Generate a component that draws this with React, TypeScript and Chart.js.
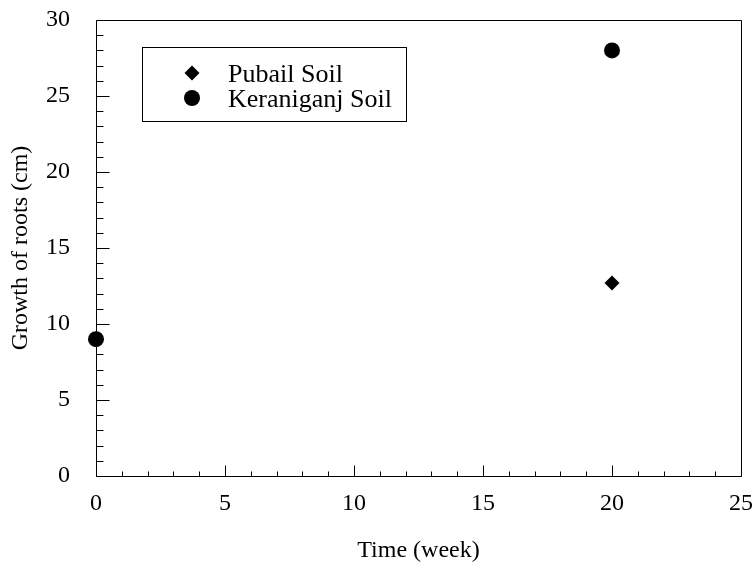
import React, { useEffect, useRef } from "react";
import { Chart, registerables } from "chart.js";

Chart.register(...registerables);

// ---- data ----
const weeks = [0, 20];
const pubailRoots = [9, 12.7];
const keraniganjRoots = [9, 28];
const seriesLabels = ["Pubail Soil", "Keraniganj Soil"];
const seriesStyles = ["rectRot", "circle"];
const xTickValues = [0, 5, 10, 15, 20, 25];
const yTickValues = [0, 5, 10, 15, 20, 25, 30];
const xTitle = "Time (week)";
const yTitle = "Growth of roots (cm)";

const FONT = '"Liberation Serif", "Times New Roman", serif';

const framePlugin = {
  id: "frame",
  beforeDatasetsDraw(chart: any) {
    const { ctx, chartArea } = chart;
    const xs = chart.scales.x;
    const ys = chart.scales.y;
    const L = Math.round(chartArea.left) + 0.5;
    const R = Math.round(chartArea.right) + 0.5;
    const T = Math.round(chartArea.top) + 0.5;
    const B = Math.round(chartArea.bottom) + 0.5;
    ctx.save();
    ctx.strokeStyle = "#000";
    ctx.lineWidth = 1;
    ctx.beginPath();
    ctx.moveTo(L, T);
    ctx.lineTo(R, T);
    ctx.lineTo(R, B);
    ctx.lineTo(L, B);
    ctx.closePath();
    ctx.stroke();
    ctx.beginPath();
    for (let v = xs.min; v <= xs.max; v += 1) {
      const px = Math.round(xs.getPixelForValue(v)) + 0.5;
      const len = v % 5 === 0 ? 11 : 5;
      ctx.moveTo(px, B);
      ctx.lineTo(px, B - len);
    }
    for (let v = ys.min; v <= ys.max; v += 1) {
      const py = Math.round(ys.getPixelForValue(v)) + 0.5;
      const len = v % 5 === 0 ? 13 : 7;
      ctx.moveTo(L, py);
      ctx.lineTo(L + len, py);
    }
    ctx.stroke();
    ctx.restore();
  },
  afterDraw(chart: any) {
    const { ctx } = chart;
    ctx.save();
    ctx.strokeStyle = "#000";
    ctx.lineWidth = 1;
    ctx.strokeRect(142.5, 47.5, 264, 74);
    const rows = [73, 98];
    chart.data.datasets.forEach((ds: any, i: number) => {
      const cx = 192;
      const cy = rows[i];
      ctx.fillStyle = "#000";
      ctx.beginPath();
      if (ds.pointStyle === "circle") {
        ctx.arc(cx, cy, 8, 0, Math.PI * 2);
      } else {
        const r = 7.5;
        ctx.moveTo(cx, cy - r);
        ctx.lineTo(cx + r, cy);
        ctx.lineTo(cx, cy + r);
        ctx.lineTo(cx - r, cy);
        ctx.closePath();
      }
      ctx.fill();
      ctx.font = `26px ${FONT}`;
      ctx.textBaseline = "alphabetic";
      ctx.textAlign = "left";
      ctx.fillText(ds.label, 228, cy + 9);
    });
    ctx.restore();
  },
};

const zeroPad = (s: any) => {
  s.paddingTop = 0;
  s.paddingBottom = 0;
  s.paddingLeft = 0;
  s.paddingRight = 0;
};

export default function App() {
  const ref = useRef<HTMLCanvasElement>(null);
  useEffect(() => {
    if (!ref.current) return;
    const mk = (ys: number[]) => weeks.map((w, i) => ({ x: w, y: ys[i] }));
    const chart = new Chart(ref.current, {
      type: "scatter",
      data: {
        datasets: [
          {
            label: seriesLabels[0],
            data: mk(pubailRoots),
            pointStyle: seriesStyles[0] as any,
            pointRadius: 7.5,
            backgroundColor: "#000",
            borderColor: "#000",
            borderWidth: 0,
            clip: false as any,
          },
          {
            label: seriesLabels[1],
            data: mk(keraniganjRoots),
            pointStyle: seriesStyles[1] as any,
            pointRadius: 8,
            backgroundColor: "#000",
            borderColor: "#000",
            borderWidth: 0,
            clip: false as any,
          },
        ],
      },
      options: {
        responsive: false,
        animation: false,
        events: [],
        layout: { padding: { top: 20, right: 14, left: 0, bottom: 0 } },
        plugins: { legend: { display: false }, tooltip: { enabled: false } },
        scales: {
          x: {
            type: "linear",
            min: 0,
            max: 25,
            grid: { display: false },
            border: { display: false },
            afterBuildTicks: (s: any) => {
              s.ticks = xTickValues.map((v) => ({ value: v }));
            },
            afterFit: (s: any) => {
              s.height = 91;
              zeroPad(s);
            },
            ticks: {
              color: "#000",
              padding: 5,
              maxRotation: 0,
              autoSkip: false,
              font: { family: FONT, size: 24 },
            },
            title: {
              display: true,
              text: xTitle,
              color: "#000",
              font: { family: FONT, size: 24 },
              padding: { top: 0, bottom: 1.5 },
            },
          },
          y: {
            type: "linear",
            min: 0,
            max: 30,
            grid: { display: false },
            border: { display: false },
            afterBuildTicks: (s: any) => {
              s.ticks = yTickValues.map((v) => ({ value: v }));
            },
            afterFit: (s: any) => {
              s.width = 96;
              zeroPad(s);
            },
            ticks: {
              color: "#000",
              padding: 18,
              autoSkip: false,
              font: { family: FONT, size: 24 },
            },
            title: {
              display: true,
              text: yTitle,
              color: "#000",
              font: { family: FONT, size: 24 },
              padding: { top: 6.5, bottom: 0 },
            },
          },
        },
      },
      plugins: [framePlugin],
    } as any);
    return () => chart.destroy();
  }, []);
  return (
    <div style={{ position: "absolute", left: 0, top: 0, width: 755, height: 567, background: "#fff" }}>
      <canvas ref={ref} width={755} height={567} style={{ display: "block" }} />
    </div>
  );
}
